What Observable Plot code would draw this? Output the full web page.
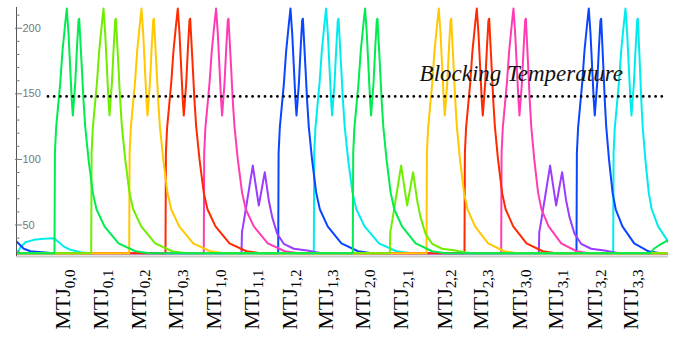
<!DOCTYPE html>
<html>
<head>
<meta charset="utf-8">
<script src="https://cdn.jsdelivr.net/npm/d3@7"></script>
<script src="https://cdn.jsdelivr.net/npm/@observablehq/plot@0.6"></script>
<style>
  body { margin: 0; background: #fff; }
  #chart svg { display: block; }
</style>
</head>
<body>
<div id="chart"></div>
<script>
// ---- data ----
const mtjNames = ["0,0","0,1","0,2","0,3","1,0","1,1","1,2","1,3","2,0","2,1","2,2","2,3","3,0","3,1","3,2","3,3"];
// time (arbitrary units, 10 per MTJ slot) where each MTJ's heating pulse starts
const riseTimes = [10.20, 20.05, 30.25, 39.99, 50.27, 60.39, 70.24, 79.80, 90.26, 100.20, 110.05, 120.24, 130.09, 140.19, 150.30, 160.15];
// series (colour group) of each MTJ
const mtjSeries = ["grp-green","grp-lime","grp-gold","grp-red","grp-pink","grp-purple","grp-blue","grp-cyan",
                   "grp-green","grp-lime","grp-gold","grp-red","grp-pink","grp-purple","grp-blue","grp-cyan"];
// weak (low temperature) pulses
const mtjWeak = [false,false,false,false,false,true,false,false,false,true,false,false,false,true,false,false];
// relative length of the cooling tail of each pulse
const mtjTail = [1, 1, 1, 1, 1, 1, 0.98, 1.03, 0.97, 1, 0.94, 0.95, 0.9, 1, 0.84, 0.8];
// x positions of the MTJ labels
const labelPos = [12.51, 22.68, 32.75, 42.86, 53.06, 63.08, 73.27, 83.15, 93.0, 103.28, 114.88, 124.75, 135.01, 144.89, 155.14, 165.02];

const seriesNames  = ["grp-cyan","grp-blue","grp-purple","grp-pink","grp-red","grp-gold","grp-lime","grp-green"];
const seriesColors = ["#00ecec","#0a45ff","#9b3cff","#ff3cb4","#ff2a00","#ffc800","#6fee00","#00ec50"];

// pulse shapes (time offset from the pulse start, temperature)
const bigPulseDt  = [0, 0.11, 0.43, 1.53, 2.15, 2.87, 3.30, 3.76, 4.21, 4.64, 4.91, 5.56, 5.99, 6.44, 6.63, 7.33, 7.78, 8.24, 9.13, 10.28, 11.27, 13.42, 17.18, 21.74, 25.50];
const bigPulseT   = [28.5, 105, 124, 158, 183, 203.6, 215, 196, 170, 145, 133.5, 158, 183, 206, 207.2, 170, 145, 125, 100, 74.5, 62, 49, 36, 30, 28.5];
const smallPulseDt = [0, 0.13, 0.35, 1.53, 3.03, 4.64, 6.25, 7.33, 8.24, 9.58, 11.35, 14.04, 17.63, 21.47];
const smallPulseT  = [28.5, 45, 48, 68.7, 95.3, 64.9, 90.3, 68.7, 56, 43.3, 35.7, 31.9, 30.5, 28.5];
const bigPeak2Dt = 6.63;   // tail starts after the second peak
const smallPeak2Dt = 6.25;

// curves at the start and end of the record
const blueStartT  = [-0.72, 0.62, 1.96, 3.76, 9.13];
const blueStartV  = [39.5, 35.7, 31.9, 30, 28.6];
const cyanStartT  = [0.19, 1.07, 2.42, 4.64, 7.33, 10.01, 11.35, 12.70, 14.49, 17.18, 19.86];
const cyanStartV  = [28.5, 33, 36.9, 38.7, 39.5, 40, 36.9, 33.6, 31.1, 29.3, 28.5];
const greenEndT   = [170.17, 171.06, 172.40, 174.65];
const greenEndV   = [28.5, 31.9, 34.4, 38.1];

const baseTemp = 28.5;
const timeStart = -0.8, timeEnd = 176;
const blockingTemp = 148;
const blockingFrom = 8.59, blockingTo = 175;
const blockingLabel = "Blocking Temperature";
const blockingLabelT = 108.2, blockingLabelV = 165.5;

const majorTicks = [50, 100, 150, 200];
const minorTicks = [30, 40, 60, 70, 80, 90, 110, 120, 130, 140, 160, 170, 180, 190, 210];

// ---- build line table ----
const rows = [];
for (const s of seriesNames) {
  const pts = [];
  if (s === "grp-blue") blueStartT.forEach((t, i) => pts.push([t, blueStartV[i]]));
  else if (s === "grp-cyan") cyanStartT.forEach((t, i) => pts.push([t, cyanStartV[i]]));
  else pts.push([timeStart, baseTemp]);
  mtjNames.forEach((m, k) => {
    if (mtjSeries[k] !== s) return;
    const dts = mtjWeak[k] ? smallPulseDt : bigPulseDt;
    const vs = mtjWeak[k] ? smallPulseT : bigPulseT;
    const p2 = mtjWeak[k] ? smallPeak2Dt : bigPeak2Dt;
    dts.forEach((dt, i) => {
      const d = dt > p2 ? p2 + (dt - p2) * mtjTail[k] : dt;
      pts.push([riseTimes[k] + d, vs[i]]);
    });
  });
  if (s === "grp-green") greenEndT.forEach((t, i) => pts.push([t, greenEndV[i]]));
  else pts.push([timeEnd, baseTemp]);
  pts.forEach(([t, v]) => rows.push({series: s, t, v}));
}

const labelMap = new Map(labelPos.map((p, i) => [p, mtjNames[i]]));

const chart = Plot.plot({
  width: 685,
  height: 338,
  marginLeft: 16,
  marginRight: 17,
  marginTop: 7,
  marginBottom: 82,
  x: {domain: [0, 175], label: null},
  y: {domain: [26, 215.8], label: null},
  color: {domain: seriesNames, range: seriesColors},
  style: {background: "#fff", overflow: "visible"},
  marks: [
    Plot.ruleY([26], {stroke: "#cccccc", strokeWidth: 2}),
    Plot.line(rows, {x: "t", y: "v", z: "series", stroke: "series", strokeWidth: 2, clip: true}),
    Plot.ruleY([blockingTemp], {x1: blockingFrom, x2: blockingTo, stroke: "#000", strokeWidth: 2.8, strokeDasharray: "0,6.2", strokeLinecap: "round"}),
    Plot.text([blockingLabel], {x: blockingLabelT, y: blockingLabelV, text: d => d, textAnchor: "start",
      fontStyle: "italic", fontFamily: "'Liberation Serif', 'Times New Roman', serif", fontSize: 23, fill: "#111"}),
    Plot.ruleX([0], {stroke: "#555"}),
    Plot.axisY(minorTicks, {anchor: "left", label: null, tickSize: -3.5, tickFormat: () => "", color: "#777"}),
    Plot.axisY(majorTicks, {anchor: "left", label: null, tickSize: -7, tickPadding: 0, dx: -1, textAnchor: "start",
      fontSize: 11, fontFamily: "'Liberation Sans', Arial, sans-serif", color: "#777"}),
    Plot.axisX(labelPos, {anchor: "bottom", label: null, tickSize: 0, tickRotate: -90, tickPadding: 13, textAnchor: "end",
      fontFamily: "'Liberation Serif', 'Times New Roman', serif", fontSize: 22, color: "#000",
      tickFormat: d => "MTJ" + labelMap.get(d)})
  ]
});

// subscripts for the MTJ indices
d3.select(chart).selectAll("text").each(function() {
  const txt = this.textContent;
  if (txt.startsWith("MTJ")) {
    const sub = txt.slice(3);
    this.textContent = "MTJ";
    d3.select(this).append("tspan").attr("dy", "0.3em").attr("font-size", 15).text(sub);
  }
});

document.getElementById("chart").appendChild(chart);
</script>
</body>
</html>
